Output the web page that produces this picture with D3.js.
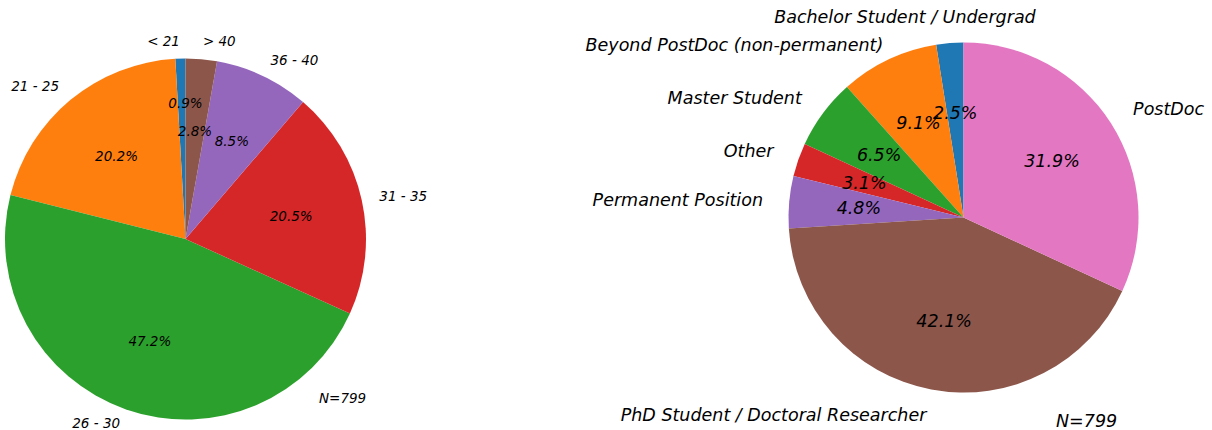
<!DOCTYPE html>
<html>
<head>
<meta charset="utf-8">
<script src="https://cdn.jsdelivr.net/npm/d3@7"></script>
<style>
  html, body { margin: 0; padding: 0; background: #fff; }
  svg { display: block; }
  text { font-family: "DejaVu Sans", sans-serif; font-style: italic; fill: #000; }
</style>
</head>
<body>
<svg id="chart" width="1212" height="430"></svg>
<script>
// ---- Data ----
const ageCategories = ["< 21", "21 - 25", "26 - 30", "31 - 35", "36 - 40", "> 40"];
const ageValues = [0.9, 20.2, 47.2, 20.5, 8.5, 2.8];

const positionCategories = [
  "Bachelor Student / Undergrad",
  "Beyond PostDoc (non-permanent)",
  "Master Student",
  "Other",
  "Permanent Position",
  "PhD Student / Doctoral Researcher",
  "PostDoc"
];
const positionValues = [2.5, 9.1, 6.5, 3.1, 4.8, 42.1, 31.9];

const sampleSize = "N=799";

const colors = ["#1f77b4", "#ff7f0e", "#2ca02c", "#d62728", "#9467bd", "#8c564b", "#e377c2"];

// ---- Drawing ----
const svg = d3.select("#chart");

function drawPie(cfg) {
  const g = svg.append("g").attr("transform", `translate(${cfg.cx},${cfg.cy})`);
  const pie = d3.pie().sort(null).value(d => d.v).startAngle(0).endAngle(-2 * Math.PI);
  const data = cfg.cats.map((c, i) => ({ c, v: cfg.vals[i], i }));
  const arcs = pie(data);
  const arc = d3.arc().innerRadius(0).outerRadius(cfg.r);
  const color = d3.scaleOrdinal().domain(cfg.cats).range(colors);

  g.selectAll("path.wedge").data(arcs).join("path")
    .attr("class", "wedge")
    .attr("d", arc)
    .attr("fill", d => color(d.data.c));

  const mid = d => (d.startAngle + d.endAngle) / 2;

  // category labels
  g.selectAll("text.lab").data(arcs).join("text")
    .attr("class", "lab")
    .each(function (d) {
      const a = mid(d);
      const x = Math.sin(a) * cfg.r * cfg.labelDist;
      const y = -Math.cos(a) * cfg.r * cfg.labelDist;
      const off = cfg.labelOffsets[d.data.c] || [0, 0];
      d3.select(this)
        .attr("x", x + off[0])
        .attr("y", y + off[1])
        .attr("text-anchor", x > 0 ? "start" : "end");
    })
    .attr("dominant-baseline", "central")
    .style("font-size", cfg.fontSize + "px")
    .text(d => d.data.c);

  // percentage labels
  g.selectAll("text.pct").data(arcs).join("text")
    .attr("class", "pct")
    .each(function (d) {
      const a = mid(d);
      const x = Math.sin(a) * cfg.r * 0.6;
      const y = -Math.cos(a) * cfg.r * 0.6;
      const off = cfg.pctOffsets[d.data.c] || [0, 0];
      d3.select(this).attr("x", x + off[0]).attr("y", y + off[1]);
    })
    .attr("text-anchor", "middle")
    .attr("dominant-baseline", "central")
    .style("font-size", cfg.fontSize + "px")
    .text(d => d.data.v.toFixed(1) + "%");

  svg.append("text")
    .attr("x", cfg.nx).attr("y", cfg.ny)
    .attr("dominant-baseline", "central")
    .style("font-size", cfg.fontSize + "px")
    .text(sampleSize);
}

drawPie({
  cx: 185.5, cy: 239, r: 180.5, labelDist: 1.1, fontSize: 13.5,
  cats: ageCategories, vals: ageValues,
  labelOffsets: { "26 - 30": [0, -3] },
  pctOffsets: { "< 21": [3, -28] },
  nx: 319, ny: 398
});

drawPie({
  cx: 963.5, cy: 217.5, r: 175, labelDist: 1.15, fontSize: 17.5,
  cats: positionCategories, vals: positionValues,
  labelOffsets: {
    "Bachelor Student / Undergrad": [88, 0],
    "Beyond PostDoc (non-permanent)": [6, 9.5]
  },
  pctOffsets: {},
  nx: 1056, ny: 421
});
</script>
</body>
</html>
